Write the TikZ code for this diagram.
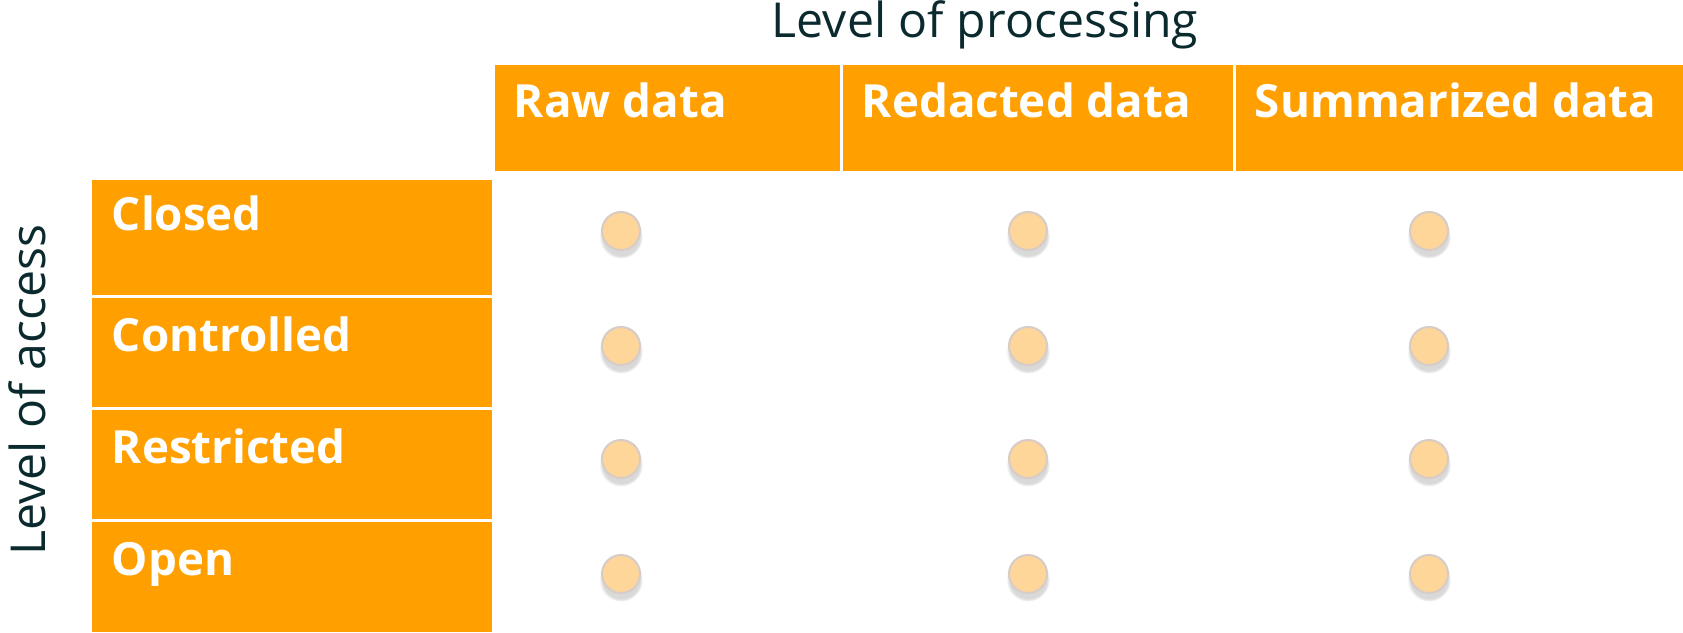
\documentclass[tikz,border=0pt]{standalone}
\usepackage{fontspec}
\setmainfont{Open Sans}
\usepackage{xcolor}
\usepackage{tikz}
\usetikzlibrary{shadows}

\definecolor{accorange}{HTML}{FF9F00}
\definecolor{dotfill}{HTML}{FFD699}
\definecolor{dotrim}{HTML}{D8CCC6}
\definecolor{titleink}{HTML}{0B2A2E}

\tikzset{
  cellbox/.style={fill=accorange, draw=none, inner sep=0pt},
  celltext/.style={anchor=base west, text=white, inner sep=0pt,
    font=\fontsize{13}{15}\selectfont\bfseries},
  axistitle/.style={text=titleink, inner sep=0pt,
    font=\fontsize{13.7}{16}\selectfont},
  accdot/.style={circle, minimum size=0.38cm, inner sep=0pt,
    fill=dotfill, draw=dotrim, line width=0.6pt,
    circular drop shadow={shadow xshift=0pt, shadow yshift=-0.05cm,
      shadow scale=1.15, opacity=0.3}},
}

\begin{document}
\begin{tikzpicture}[x=0.01cm, y=-0.01cm]
    \useasboundingbox (0,0) rectangle (1683,632);

    % Axis titles
    \node[axistitle, anchor=base] (proctitle) at (985,37) {Level of processing};
    \node[axistitle, rotate=90, anchor=base] (accesstitle) at (45,390) {Level of access};

    % Header row: level of processing
    \node[cellbox, minimum width=3.45cm, minimum height=1.06cm] (raw) at (667.5,118) {};
    \node[cellbox, minimum width=3.90cm, minimum height=1.06cm] (redacted) at (1038,118) {};
    \node[cellbox, minimum width=4.47cm, minimum height=1.06cm] (summarized) at (1459.5,118) {};
    \node[celltext] (rawlabel) at ([shift={(19,53)}]raw.north west) {Raw data};
    \node[celltext] (redactedlabel) at ([shift={(19,53)}]redacted.north west) {Redacted data};
    \node[celltext] (summarizedlabel) at ([shift={(19,53)}]summarized.north west) {Summarized data};

    % Left column: level of access
    \node[cellbox, minimum width=4.00cm, minimum height=1.15cm] (closed) at (292,237.5) {};
    \node[cellbox, minimum width=4.00cm, minimum height=1.09cm] (controlled) at (292,352.5) {};
    \node[cellbox, minimum width=4.00cm, minimum height=1.09cm] (restricted) at (292,464.5) {};
    \node[cellbox, minimum width=4.00cm, minimum height=1.10cm] (open) at (292,577) {};
    \node[celltext] (closedlabel) at ([shift={(20,51)}]closed.north west) {Closed};
    \node[celltext] (controlledlabel) at ([shift={(20,54)}]controlled.north west) {Controlled};
    \node[celltext] (restrictedlabel) at ([shift={(20,54)}]restricted.north west) {Restricted};
    \node[celltext] (openlabel) at ([shift={(20,54)}]open.north west) {Open};

    % Grid of dots
    \foreach \cx [count=\i] in {621,1028,1429}
        \foreach \cy [count=\j] in {231,346,459,574}
            \node[accdot] (dot-\i-\j) at (\cx,\cy) {};
\end{tikzpicture}
\end{document}
